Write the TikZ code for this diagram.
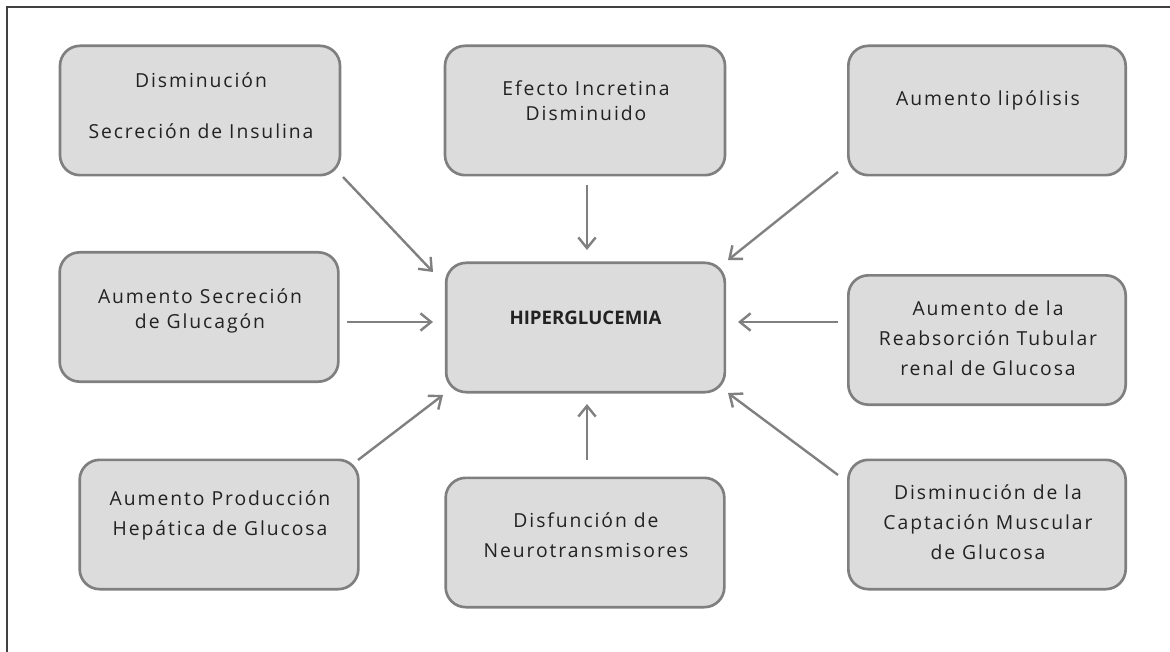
\documentclass[tikz,border=0pt]{standalone}
\usepackage{fontspec}
\setmainfont{Open Sans}[LetterSpace=10]
\newfontfamily\plainfam{Open Sans}
\usetikzlibrary{arrows.meta}
\definecolor{boxfill}{HTML}{DCDCDC}
\definecolor{boxline}{HTML}{7F7F7F}
\definecolor{arrowc}{HTML}{808080}
\definecolor{txt}{HTML}{222222}
\begin{document}
\begin{tikzpicture}[x=0.75pt,y=-0.75pt,
  cbox/.style={draw=boxline, line width=2pt, fill=boxfill, rounded corners=15pt, minimum height=97pt, inner sep=0pt},
  lbl/.style={text=txt, font=\fontsize{14.5}{19}\selectfont, align=center, inner sep=0pt},
  lblw/.style={lbl, font=\fontsize{14.5}{22.5}\selectfont},
  arr/.style={draw=arrowc, line width=1.8pt, -{Straight Barb[length=8pt,width=13pt,line width=1.8pt]}}]
\useasboundingbox (0,0) rectangle (1170,652);
% frame (top and left)
\draw[line width=1pt, draw=black!75] (7,652) -- (7,7) -- (1170,7);
% boxes
\node[cbox, minimum width=210pt] (n1) at (200,110.5) {};
\node[cbox, minimum width=210pt] (n2) at (585,110.5) {};
\node[cbox, minimum width=208pt] (n3) at (987,110.5) {};
\node[cbox, minimum width=209pt] (n4) at (199,317) {};
\node[cbox, minimum width=209pt] (hc) at (585.5,327.5) {};
\node[cbox, minimum width=208pt] (n6) at (987,340) {};
\node[cbox, minimum width=209pt] (n7) at (219,524.5) {};
\node[cbox, minimum width=209pt] (n8) at (585,542.5) {};
\node[cbox, minimum width=208pt] (n9) at (987,524.5) {};
% labels
\node[lbl] (t1a) at (201,80) {Disminución};
\node[lbl] (t1b) at (201,131) {Secreción de Insulina};
\node[lbl] (t2) at (586,101) {Efecto Incretina\\Disminuido};
\node[lbl] (t3) at (988,100) {Aumento lipólisis};
\node[lbl] (t4) at (200,311) {Aumento Secreción\\de Glucagón};
\node[lbl, font=\plainfam\fontsize{14}{19}\selectfont\bfseries] (th) at (585.5,318) {HIPERGLUCEMIA};
\node[lblw] (t6) at (988,338) {Aumento de la\\Reabsorción Tubular\\renal de Glucosa};
\node[lblw] (t7) at (220,515) {Aumento Producción\\Hepática de Glucosa};
\node[lblw] (t8) at (586,535) {Disfunción de\\Neurotransmisores};
\node[lblw] (t9) at (988,522) {Disminución de la\\Captación Muscular\\de Glucosa};
% connector endpoints
\coordinate (s1) at (343,177); \coordinate (e1) at (433,272);
\coordinate (s2) at (587,185); \coordinate (e2) at (587,250);
\coordinate (s3) at (838,172); \coordinate (e3) at (728,260);
\coordinate (s4) at (347,322); \coordinate (e4) at (433,322);
\coordinate (s6) at (838,322); \coordinate (e6) at (738,322);
\coordinate (s7) at (358,460); \coordinate (e7) at (443,395);
\coordinate (s8) at (587,460); \coordinate (e8) at (587,404);
\coordinate (s9) at (838,475); \coordinate (e9) at (728,393);
\draw[arr] (s1) -- (e1);
\draw[arr] (s2) -- (e2);
\draw[arr] (s3) -- (e3);
\draw[arr] (s4) -- (e4);
\draw[arr] (s6) -- (e6);
\draw[arr] (s7) -- (e7);
\draw[arr] (s8) -- (e8);
\draw[arr] (s9) -- (e9);
\end{tikzpicture}
\end{document}
